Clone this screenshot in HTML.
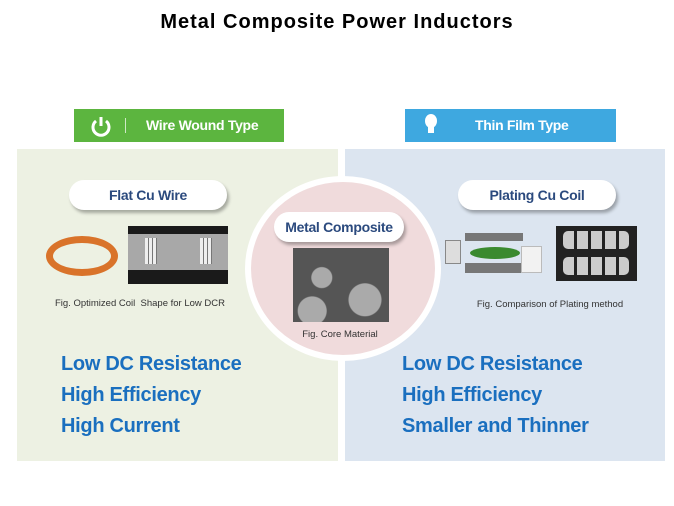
<!DOCTYPE html>
<html><head><meta charset="utf-8"><style>
*{margin:0;padding:0;box-sizing:border-box}
body{width:674px;height:506px;background:#fff;position:relative;overflow:hidden;font-family:"Liberation Sans",sans-serif}
.a{position:absolute}
.title{left:0;width:674px;top:11px;text-align:center;font-weight:bold;font-size:20px;letter-spacing:1px;color:#000}
.pill{position:absolute;background:#fff;border-radius:16px;box-shadow:2px 3px 3px rgba(0,0,0,.3);text-align:center;font-weight:bold;color:#2b4a7e;font-size:14px;letter-spacing:-.3px}
.cap{position:absolute;font-size:9.5px;color:#333;text-align:center}
.big{position:absolute;font-weight:bold;color:#1a6fbf;font-size:20px;line-height:31px;letter-spacing:-.3px}
</style></head><body>
<div class="a title">Metal Composite Power Inductors</div>
<div class="a" style="left:74px;top:109px;width:210px;height:33px;background:#5cb53f;color:#fff;font-weight:bold;font-size:14px">
 <svg class="a" style="left:16px;top:6px" width="22" height="22" viewBox="0 0 22 22"><path d="M6 6 A8 8 0 1 0 16 6" fill="none" stroke="#fff" stroke-width="3"/><line x1="11" y1="2" x2="11" y2="11" stroke="#fff" stroke-width="3"/></svg>
 <div class="a" style="left:51px;top:9px;width:1px;height:15px;background:#cfe9c6"></div>
 <div class="a" style="left:72px;top:8px;letter-spacing:-.3px">Wire Wound Type</div>
</div>
<div class="a" style="left:405px;top:109px;width:211px;height:33px;background:#3ea8e0;color:#fff;font-weight:bold;font-size:14px">
 <div class="a" style="left:20px;top:5px;width:12px;height:14px;border-radius:50%;background:#fff"></div>
 <div class="a" style="left:23px;top:18px;width:6px;height:6px;background:#fff"></div>
 <div class="a" style="left:70px;top:8px;letter-spacing:-.3px">Thin Film Type</div>
</div>
<div class="a" style="left:17px;top:149px;width:321px;height:312px;background:#edf1e3"></div>
<div class="a" style="left:345px;top:149px;width:320px;height:312px;background:#dce5f0"></div>
<div class="a" style="left:245px;top:176px;width:196px;height:185px;border-radius:50%;background:#fff"></div>
<div class="a" style="left:251px;top:182px;width:184px;height:173px;border-radius:50%;background:#f0dbdc"></div>
<div class="pill" style="left:69px;top:180px;width:158px;height:30px;line-height:30px">Flat Cu Wire</div>
<div class="pill" style="left:458px;top:180px;width:158px;height:30px;line-height:30px">Plating Cu Coil</div>
<div class="pill" style="left:274px;top:212px;width:130px;height:30px;line-height:30px">Metal Composite</div>
<div class="a" style="left:46px;top:236px;width:72px;height:40px;border-radius:50%;border:7px solid #d9732a"></div>
<div class="a" style="left:128px;top:226px;width:100px;height:58px;background:#1a1a1a"></div>
<div class="a" style="left:128px;top:234px;width:100px;height:36px;background:#a8a8a8"></div>
<div class="a" style="left:145px;top:238px;width:12px;height:26px;background:repeating-linear-gradient(90deg,#eee 0 3px,#777 3px 4px)"></div>
<div class="a" style="left:200px;top:238px;width:12px;height:26px;background:repeating-linear-gradient(90deg,#eee 0 3px,#777 3px 4px)"></div>
<div class="cap" style="left:40px;top:298px;width:200px">Fig. Optimized Coil&nbsp; Shape for Low DCR</div>
<div class="a" style="left:293px;top:248px;width:96px;height:74px;background:radial-gradient(circle at 30% 40%,#aaa 0 10px,transparent 11px),radial-gradient(circle at 75% 70%,#aaa 0 16px,transparent 17px),radial-gradient(circle at 20% 85%,#aaa 0 14px,transparent 15px),#555"></div>
<div class="cap" style="left:270px;top:329px;width:140px">Fig. Core Material</div>
<div class="a" style="left:465px;top:233px;width:58px;height:8px;background:#777"></div>
<div class="a" style="left:470px;top:247px;width:50px;height:12px;border-radius:50%;background:#3a8a2f"></div>
<div class="a" style="left:465px;top:263px;width:58px;height:10px;background:#777"></div>
<div class="a" style="left:445px;top:240px;width:16px;height:24px;background:#ddd;border:1px solid #888"></div>
<div class="a" style="left:521px;top:246px;width:21px;height:27px;background:#f2f2f2;border:1px solid #bbb"></div>
<div class="a" style="left:556px;top:226px;width:81px;height:55px;background:#222"></div>
<div class="a" style="left:563px;top:231px;width:66px;height:18px;background:repeating-linear-gradient(90deg,#ccc 0 11px,#222 11px 14px);border-radius:5px"></div>
<div class="a" style="left:563px;top:257px;width:66px;height:18px;background:repeating-linear-gradient(90deg,#ccc 0 11px,#222 11px 14px);border-radius:5px"></div>
<div class="cap" style="left:450px;top:299px;width:200px">Fig. Comparison of Plating method</div>
<div class="big" style="left:61px;top:349px">Low DC Resistance<br>High Efficiency<br>High Current</div>
<div class="big" style="left:402px;top:349px">Low DC Resistance<br>High Efficiency<br>Smaller and Thinner</div>
</body></html>
